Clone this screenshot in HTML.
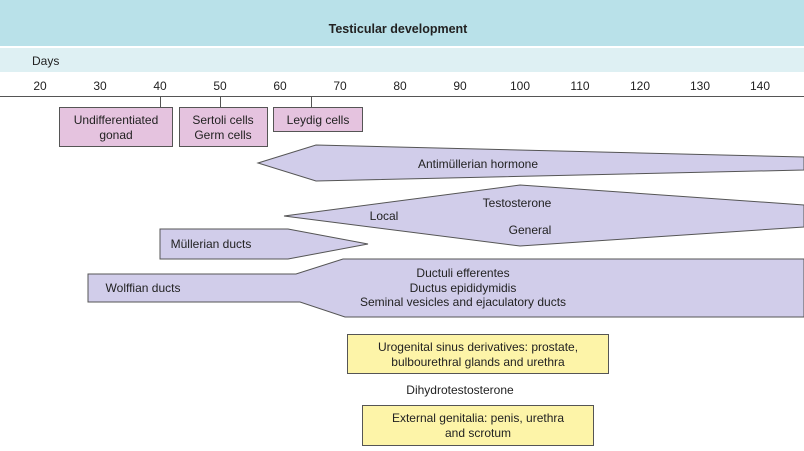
<!DOCTYPE html><html><head><style>body{margin:0;width:804px;height:446px;overflow:hidden;background:#fff;font-family:"Liberation Sans",sans-serif}</style></head><body>
<svg width="804" height="446" xmlns="http://www.w3.org/2000/svg" font-family="Liberation Sans, sans-serif" font-size="12" fill="#222">
<rect x="0" y="0" width="804" height="46" fill="#b9e1e9"/>
<rect x="0" y="48" width="804" height="24" fill="#def0f3"/>
<text x="398" y="33" text-anchor="middle" font-weight="bold" font-size="12.5">Testicular development</text>
<text x="32" y="65">Days</text>
<g text-anchor="middle">
<text x="40" y="90">20</text><text x="100" y="90">30</text><text x="160" y="90">40</text><text x="220" y="90">50</text><text x="280" y="90">60</text><text x="340" y="90">70</text><text x="400" y="90">80</text><text x="460" y="90">90</text><text x="520" y="90">100</text><text x="580" y="90">110</text><text x="640" y="90">120</text><text x="700" y="90">130</text><text x="760" y="90">140</text>
</g>
<line x1="0" y1="96.5" x2="804" y2="96.5" stroke="#555"/>
<g stroke="#555" fill="#e5c3df">
<line x1="160.5" y1="96" x2="160.5" y2="107"/><line x1="220.5" y1="96" x2="220.5" y2="107"/><line x1="311.5" y1="96" x2="311.5" y2="107"/>
<rect x="59.5" y="107.5" width="113" height="39"/>
<rect x="179.5" y="107.5" width="88" height="39"/>
<rect x="273.5" y="107.5" width="89" height="24"/>
</g>
<g text-anchor="middle">
<text x="116" y="124">Undifferentiated</text><text x="116" y="139">gonad</text>
<text x="223" y="124">Sertoli cells</text><text x="223" y="139">Germ cells</text>
<text x="318" y="124">Leydig cells</text>
</g>
<g stroke="#555" fill="#d1cdea">
<polygon points="258,163 316,145 804,157 804,170 316,181"/>
<polygon points="284,216 520,185 804,205 804,227 520,246"/>
<polygon points="160,229 288,229 368,244 288,259 160,259"/>
<polygon points="88,274 296,274 343,259 804,259 804,317 345,317 300,302 88,302"/>
</g>
<g text-anchor="middle">
<text x="478" y="168">Antimüllerian hormone</text>
<text x="517" y="207">Testosterone</text>
<text x="384" y="220">Local</text>
<text x="530" y="234">General</text>
<text x="211" y="248">Müllerian ducts</text>
<text x="143" y="292">Wolffian ducts</text>
<text x="463" y="277">Ductuli efferentes</text>
<text x="463" y="292">Ductus epididymidis</text>
<text x="463" y="306">Seminal vesicles and ejaculatory ducts</text>
</g>
<g stroke="#555" fill="#fdf4a8">
<rect x="347.5" y="334.5" width="261" height="39"/>
<rect x="362.5" y="405.5" width="231" height="40"/>
</g>
<g text-anchor="middle">
<text x="478" y="351">Urogenital sinus derivatives: prostate,</text>
<text x="478" y="366">bulbourethral glands and urethra</text>
<text x="460" y="394">Dihydrotestosterone</text>
<text x="478" y="422">External genitalia: penis, urethra</text>
<text x="478" y="437">and scrotum</text>
</g>
</svg></body></html>
